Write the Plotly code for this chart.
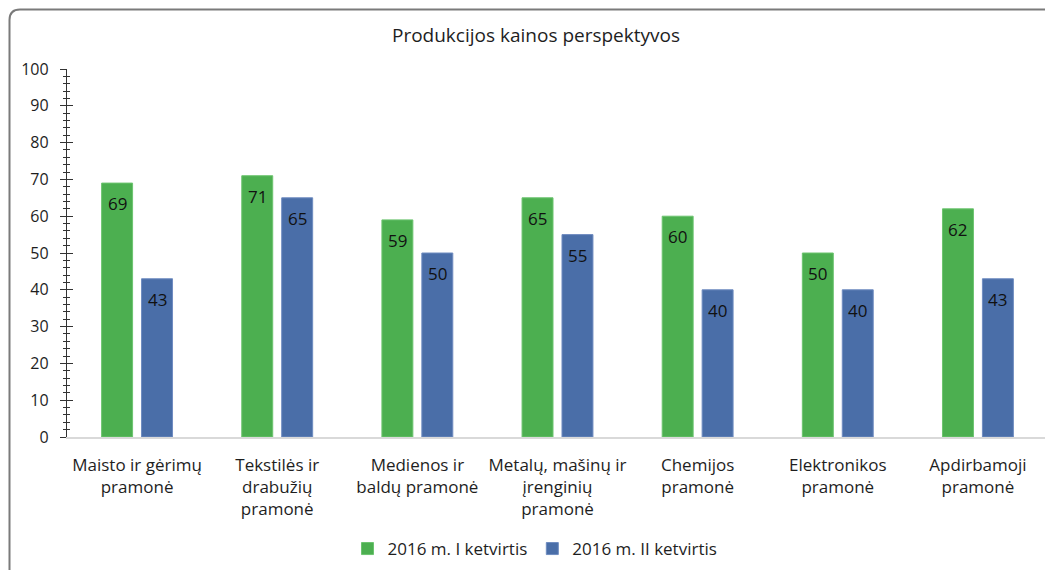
import plotly.graph_objects as go

categories = [
    "Maisto ir gėrimų<br>pramonė",
    "Tekstilės ir<br>drabužių<br>pramonė",
    "Medienos ir<br>baldų pramonė",
    "Metalų, mašinų ir<br>įrenginių<br>pramonė",
    "Chemijos<br>pramonė",
    "Elektronikos<br>pramonė",
    "Apdirbamoji<br>pramonė",
]
series_names = ["2016 m. I ketvirtis", "2016 m. II ketvirtis"]
q1_values = [69, 71, 59, 65, 60, 50, 62]
q2_values = [43, 65, 50, 55, 40, 40, 43]
y_tickvals = [0, 10, 20, 30, 40, 50, 60, 70, 80, 90, 100]

title_text = "Produkcijos kainos perspektyvos"

GREEN = "#4CAF50"
BLUE = "#4A6EA8"
TXT = "#1e1e1e"
FONT = "Open Sans"

# the page body adds an 8px offset; all window coordinates are compensated
OFF = 8
W, H = 1053, 570
ML = 67 - OFF
MT = 69 - OFF
MB = H - (437 - OFF)
MR = W - (1048 - OFF)
PW, PH = W - ML - MR, H - MT - MB


def px_x(px):
    return (px - OFF - ML) / PW


def px_y(py):
    return (H - MB - (py - OFF)) / PH


fig = go.Figure()
fig.add_trace(go.Bar(
    x=categories, y=q1_values, name=series_names[0],
    marker=dict(color=GREEN, line=dict(color="#6cc46f", width=1)),
))
fig.add_trace(go.Bar(
    x=categories, y=q2_values, name=series_names[1],
    marker=dict(color=BLUE, line=dict(color="#6f8cc0", width=1)),
))
# dummy trace for the overlaid tick axis (ticks crossing the y axis line)
fig.add_trace(go.Scatter(x=[], y=[], yaxis="y2", showlegend=False, hoverinfo="skip"))

annotations = []
for vals, shift in ((q1_values, -20), (q2_values, 20)):
    for c, v in zip(categories, vals):
        annotations.append(dict(
            x=c, y=v, xref="x", yref="y", text=str(v), showarrow=False,
            xshift=shift, yshift=-7, yanchor="top",
            font=dict(family=FONT, size=17, color="#111"),
        ))

fig.update_layout(
    width=W, height=H,
    margin=dict(l=ML, r=MR, t=MT, b=MB, autoexpand=False),
    paper_bgcolor="white", plot_bgcolor="white",
    barmode="group", bargap=0.43, bargroupgap=0.225,
    font=dict(family=FONT, size=16, color=TXT),
    title=dict(text=title_text, x=(536 - OFF) / W, xanchor="center",
               y=1 - (35 - OFF) / H, yanchor="middle",
               font=dict(family=FONT, size=19, color=TXT)),
    showlegend=True,
    legend=dict(orientation="h", x=px_x(535), xanchor="center", xref="paper",
                y=px_y(549), yanchor="middle",
                font=dict(family=FONT, size=17, color=TXT),
                itemwidth=30, traceorder="normal"),
    xaxis=dict(
        showline=True, linecolor="#d9d9d9", linewidth=1.5,
        ticks="", showgrid=False,
        tickfont=dict(family=FONT, size=17, color=TXT),
        ticklabelstandoff=12,
    ),
    yaxis=dict(
        range=[0, 100], tickvals=y_tickvals,
        showline=True, linecolor="#333", linewidth=1.3,
        ticks="outside", ticklen=6, tickcolor="#333", tickwidth=1.3,
        minor=dict(dtick=2, ticks="outside", ticklen=3, tickcolor="#333", tickwidth=1),
        showgrid=False, zeroline=False,
        tickfont=dict(family=FONT, size=16, color=TXT),
        ticklabelstandoff=8,
    ),
    yaxis2=dict(
        range=[0, 100], overlaying="y", side="left", anchor="x",
        tickvals=y_tickvals, showticklabels=False,
        ticks="inside", ticklen=6, tickcolor="#333", tickwidth=1.3,
        minor=dict(dtick=2, ticks="inside", ticklen=3, tickcolor="#333", tickwidth=1),
        showgrid=False, zeroline=False, showline=False,
    ),
    annotations=annotations,
    shapes=[dict(
        type="path", xref="paper", yref="paper", layer="above",
        path=(f"M {px_x(9.5)},{px_y(600)} L {px_x(9.5)},{px_y(20)} "
              f"Q {px_x(9.5)},{px_y(9.5)} {px_x(20)},{px_y(9.5)} "
              f"L {px_x(1100)},{px_y(9.5)}"),
        line=dict(color="#7a7a7a", width=2),
    )],
)

fig.write_html("out.html")
